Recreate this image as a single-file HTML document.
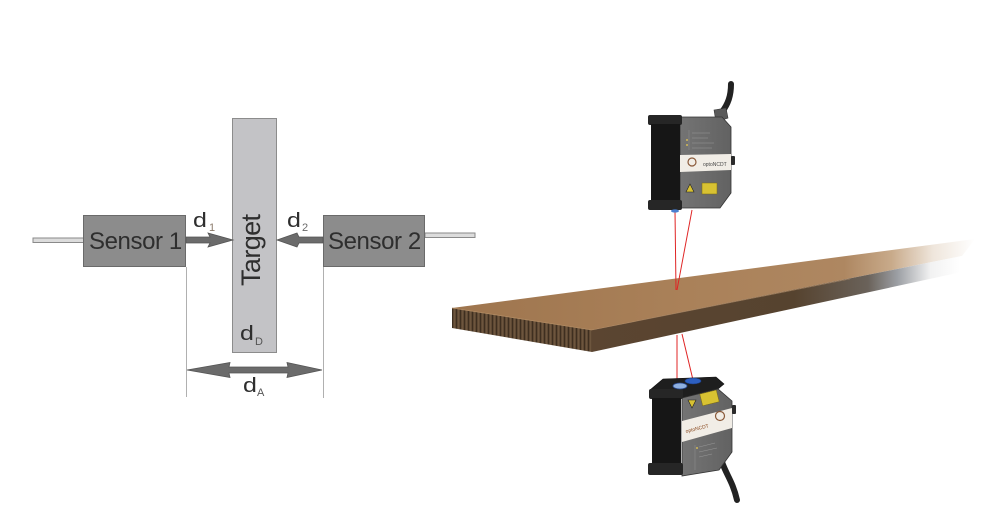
<!DOCTYPE html>
<html>
<head>
<meta charset="utf-8">
<style>
html,body{margin:0;padding:0;background:#fff;}
body{width:1000px;height:529px;overflow:hidden;}
svg{display:block;}
text{font-family:"Liberation Sans",Arial,sans-serif;}
</style>
</head>
<body>
<svg width="1000" height="529" viewBox="0 0 1000 529" xmlns="http://www.w3.org/2000/svg">
<defs>
  <linearGradient id="topG" gradientUnits="userSpaceOnUse" x1="452" y1="0" x2="975" y2="0">
    <stop offset="0" stop-color="#9e754e"/>
    <stop offset="0.45" stop-color="#aa8159"/>
    <stop offset="0.75" stop-color="#ae8761"/>
    <stop offset="0.84" stop-color="#c8aa8a"/>
    <stop offset="0.92" stop-color="#efe6dc"/>
    <stop offset="1" stop-color="#ffffff"/>
  </linearGradient>
  <linearGradient id="frontG" gradientUnits="userSpaceOnUse" x1="592" y1="0" x2="960" y2="0">
    <stop offset="0" stop-color="#5b4531"/>
    <stop offset="0.55" stop-color="#56432f"/>
    <stop offset="0.75" stop-color="#6a625a"/>
    <stop offset="0.83" stop-color="#9c9fa4"/>
    <stop offset="0.92" stop-color="#f2f2f2"/>
    <stop offset="1" stop-color="#ffffff"/>
  </linearGradient>
  <pattern id="grain" width="4" height="40" patternUnits="userSpaceOnUse">
    <rect width="4" height="40" fill="#5e4833"/>
    <rect x="0" width="1" height="40" fill="#3e2f20"/>
    <rect x="2" width="1" height="40" fill="#6d563e"/>
  </pattern>
  <linearGradient id="sideG" x1="0" y1="0" x2="1" y2="0">
    <stop offset="0" stop-color="#747474"/>
    <stop offset="1" stop-color="#626262"/>
  </linearGradient>
</defs>

<!-- ===== Left diagram ===== -->
<rect x="33" y="238" width="51" height="4.5" fill="#dcdcdc" stroke="#8a8a8a" stroke-width="1"/>
<rect x="425" y="233" width="50" height="4.5" fill="#dcdcdc" stroke="#8a8a8a" stroke-width="1"/>

<line x1="186.5" y1="267" x2="186.5" y2="397" stroke="#b0b0b0" stroke-width="1"/>
<line x1="323.5" y1="267" x2="323.5" y2="398" stroke="#b0b0b0" stroke-width="1"/>

<rect x="83.5" y="215.5" width="102" height="51" fill="#8c8c8c" stroke="#6a6a6a" stroke-width="1"/>
<rect x="323.5" y="215.5" width="101" height="51" fill="#8c8c8c" stroke="#6a6a6a" stroke-width="1"/>

<rect x="232.5" y="118.5" width="44" height="234" fill="#c3c3c6" stroke="#8c8c8c" stroke-width="1"/>

<polygon points="186,237 210,237 208,233 233,240 208,247 210,243 186,243" fill="#6b6b6b" stroke="#555" stroke-width="0.8"/>
<polygon points="323,237 299,237 297,233 277,240 297,247 299,243 323,243" fill="#6b6b6b" stroke="#555" stroke-width="0.8"/>

<polygon points="187,370 230,362.5 229,367 288,367 287,362.5 322,370 287,377.5 288,373 229,373 230,377.5" fill="#6b6b6b" stroke="#555" stroke-width="0.8"/>

<text x="89" y="249" font-size="24" fill="#2e2e2e" letter-spacing="-0.4">Sensor 1</text>
<text x="328" y="249" font-size="24" fill="#2e2e2e" letter-spacing="-0.4">Sensor 2</text>
<text transform="translate(260,286) rotate(-90)" font-size="27" fill="#2e2e2e" letter-spacing="-0.6">Target</text>

<text transform="translate(193,227) scale(1.25,1)" font-size="20" fill="#2e2e2e">d</text>
<text x="209" y="231" font-size="11" fill="#8a7a6a">1</text>
<text transform="translate(287,227) scale(1.25,1)" font-size="20" fill="#2e2e2e">d</text>
<text x="302" y="231" font-size="11" fill="#6a6a6a">2</text>
<text transform="translate(240,340) scale(1.25,1)" font-size="20" fill="#2e2e2e">d</text>
<text x="255" y="345" font-size="11" fill="#555">D</text>
<text transform="translate(243,392) scale(1.25,1)" font-size="20" fill="#2e2e2e">d</text>
<text x="257" y="396" font-size="11" fill="#555">A</text>

<!-- ===== Right photo ===== -->
<polygon points="452,308 975,239 962,256 592,330" fill="url(#topG)"/>
<polygon points="592,330 962,256 962,272 592,352" fill="url(#frontG)"/>
<polygon points="452,308 592,330 592,352 452,328" fill="url(#grain)"/>
<line x1="452" y1="308" x2="592" y2="330" stroke="#b08a62" stroke-width="0.8"/>
<line x1="592" y1="330" x2="850" y2="279" stroke="#b89068" stroke-width="0.6" opacity="0.7"/>

<line x1="675" y1="211" x2="676" y2="290" stroke="#e02424" stroke-width="1"/>
<line x1="692" y1="210" x2="677" y2="290" stroke="#e02424" stroke-width="1"/>
<line x1="677" y1="335" x2="677" y2="383" stroke="#e02424" stroke-width="1"/>
<line x1="682" y1="334" x2="693" y2="380" stroke="#e02424" stroke-width="1"/>

<!-- top sensor -->
<path d="M731,84 C731,96 728,104 722,112" stroke="#222" stroke-width="6" fill="none" stroke-linecap="round"/>
<polygon points="714,110 726,108 728,118 716,122" fill="#5a5a5a" stroke="#333" stroke-width="0.6"/>
<polygon points="680,117 722,117 731,127 731,193 720,208 680,208" fill="url(#sideG)" stroke="#333" stroke-width="0.8"/>
<polygon points="680,155 731,154 731,170 680,172" fill="#f1ede6"/>
<circle cx="692" cy="162" r="4" fill="none" stroke="#8a5a3a" stroke-width="1.2"/>
<text x="703" y="166" font-size="5" fill="#444">optoNCDT</text>
<rect x="702" y="183" width="15" height="11" fill="#d8c232" stroke="#7a6a10" stroke-width="0.5"/>
<polygon points="690,184 694,192 686,192" fill="#d8c232" stroke="#222" stroke-width="0.6"/>
<circle cx="687" cy="140" r="0.9" fill="#f0d050"/>
<circle cx="687" cy="145" r="0.9" fill="#f0d050"/>
<line x1="689" y1="130" x2="689" y2="150" stroke="#999" stroke-width="0.4"/>
<line x1="692" y1="133" x2="710" y2="133" stroke="#999" stroke-width="0.5"/>
<line x1="692" y1="138" x2="708" y2="138" stroke="#999" stroke-width="0.5"/>
<line x1="692" y1="143" x2="714" y2="143" stroke="#999" stroke-width="0.5"/>
<line x1="692" y1="148" x2="712" y2="148" stroke="#999" stroke-width="0.5"/>
<rect x="731" y="156" width="4" height="9" rx="1" fill="#2a2a2a"/>
<rect x="648" y="115" width="34" height="10" rx="2" fill="#262626"/>
<rect x="651" y="124" width="29" height="78" fill="#161616"/>
<rect x="648" y="200" width="34" height="10" rx="2" fill="#262626"/>
<ellipse cx="675" cy="211" rx="4" ry="1.6" fill="#4a7fd0"/>

<!-- bottom sensor -->
<path d="M722,462 C726,474 733,482 737,500" stroke="#222" stroke-width="6" fill="none" stroke-linecap="round"/>
<polygon points="650,390 663,379 716,377 724,384 718,389 682,398" fill="#1e1e1e" stroke="#111" stroke-width="0.6"/>
<polygon points="682,398 718,389 732,401 732,452 719,470 682,476" fill="url(#sideG)" stroke="#333" stroke-width="0.8"/>
<polygon points="682,421 732,408 732,428 682,442" fill="#f1ede6"/>
<text x="686" y="433" font-size="5" fill="#8a4a20" transform="rotate(-14 686 433)">optoNCDT</text>
<circle cx="720" cy="416" r="4.5" fill="none" stroke="#8a5a3a" stroke-width="1.2"/>
<rect x="701" y="392" width="17" height="12" fill="#d8c232" stroke="#7a6a10" stroke-width="0.5" transform="rotate(-14 709 398)"/>
<polygon points="688,400 696,400 692,408" fill="#d8c232" stroke="#222" stroke-width="0.6"/>
<circle cx="697" cy="448" r="0.9" fill="#f0d050"/>
<line x1="695" y1="445" x2="695" y2="470" stroke="#999" stroke-width="0.4"/>
<line x1="699" y1="447" x2="715" y2="443" stroke="#999" stroke-width="0.5"/>
<line x1="699" y1="452" x2="717" y2="448" stroke="#999" stroke-width="0.5"/>
<line x1="699" y1="457" x2="712" y2="454" stroke="#999" stroke-width="0.5"/>
<rect x="732" y="405" width="4" height="9" rx="1" fill="#2a2a2a"/>
<rect x="649" y="389" width="34" height="10" rx="2" fill="#262626"/>
<rect x="652" y="398" width="29" height="67" fill="#161616"/>
<rect x="648" y="463" width="35" height="12" rx="2" fill="#262626"/>
<ellipse cx="680" cy="386" rx="7" ry="3" fill="#8fb0e0" stroke="#2a4a90" stroke-width="0.8"/>
<ellipse cx="693" cy="381" rx="8" ry="3" fill="#2d5fc0" stroke="#1a3a80" stroke-width="0.6"/>
</svg>
</body>
</html>
